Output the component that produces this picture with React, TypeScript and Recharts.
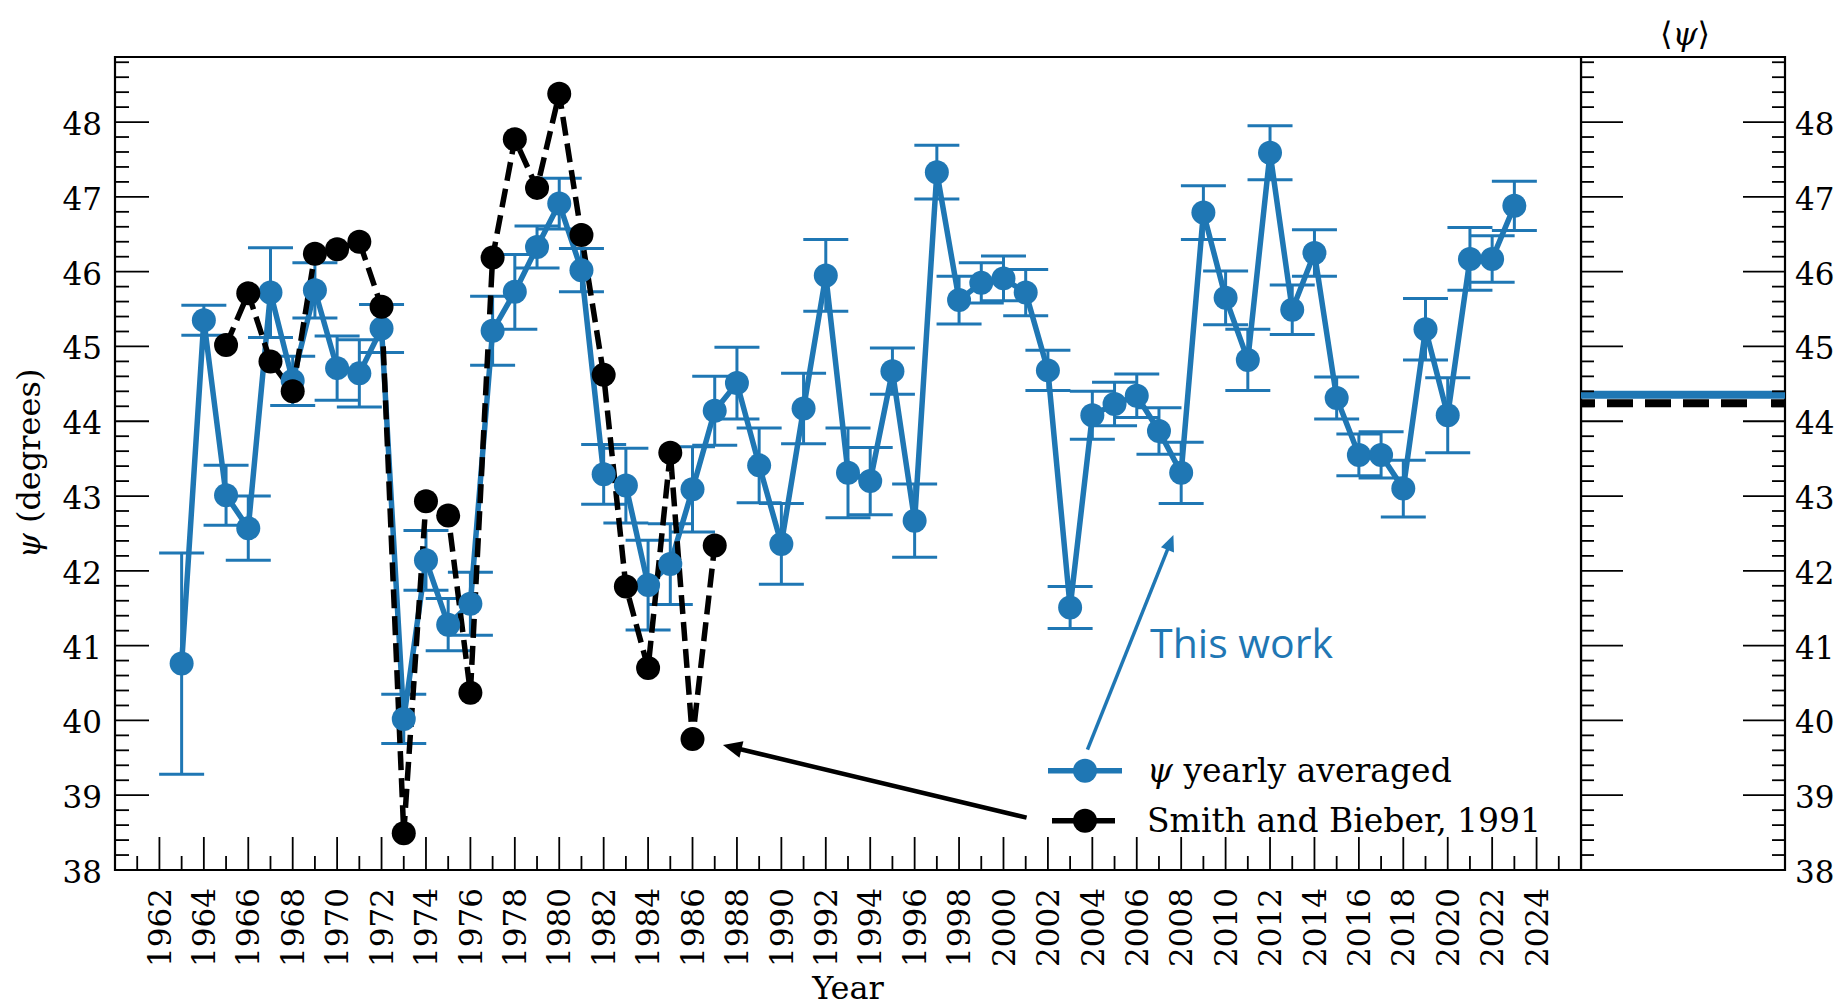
import React from 'react';
import {
  ComposedChart,
  Line,
  XAxis,
  YAxis,
  ErrorBar,
  ReferenceLine,
  ReferenceArea,
  ReferenceDot,
  Legend,
  Label,
} from 'recharts';

// yearly averaged psi (this work)
const years = [
  1963, 1964, 1965, 1966, 1967, 1968, 1969, 1970, 1971, 1972,
  1973, 1974, 1975, 1976, 1977, 1978, 1979, 1980, 1981, 1982,
  1983, 1984, 1985, 1986, 1987, 1988, 1989, 1990, 1991, 1992,
  1993, 1994, 1995, 1996, 1997, 1998, 1999, 2000, 2001, 2002,
  2003, 2004, 2005, 2006, 2007, 2008, 2009, 2010, 2011, 2012,
  2013, 2014, 2015, 2016, 2017, 2018, 2019, 2020, 2021, 2022, 2023,
];
const psiYearly = [
  40.76, 45.35, 43.01, 42.57, 45.72, 44.54, 45.75, 44.71, 44.64, 45.24,
  40.02, 42.14, 41.28, 41.56, 45.21, 45.73, 46.33, 46.91, 46.02, 43.29,
  43.14, 41.81, 42.09, 43.09, 44.14, 44.51, 43.41, 42.36, 44.17, 45.95,
  43.31, 43.2, 44.67, 42.67, 47.33, 45.62, 45.85, 45.91, 45.72, 44.68,
  41.51, 44.08, 44.23, 44.34, 43.87, 43.31, 46.79, 45.65, 44.82, 47.59,
  45.49, 46.25, 44.31, 43.55, 43.55, 43.1, 45.23, 44.08, 46.17, 46.17, 46.88,
];
const psiErr = [
  1.48, 0.2, 0.4, 0.43, 0.6, 0.33, 0.37, 0.43, 0.45, 0.32,
  0.33, 0.4, 0.35, 0.42, 0.46, 0.5, 0.28, 0.34, 0.29, 0.4,
  0.5, 0.6, 0.54, 0.57, 0.46, 0.48, 0.5, 0.54, 0.47, 0.48,
  0.6, 0.45, 0.31, 0.49, 0.36, 0.32, 0.27, 0.3, 0.31, 0.27,
  0.28, 0.32, 0.29, 0.29, 0.31, 0.41, 0.36, 0.36, 0.41, 0.36,
  0.33, 0.31, 0.28, 0.28, 0.31, 0.38, 0.41, 0.5, 0.42, 0.31, 0.33,
];

// Smith and Bieber, 1991
const smithYears = [
  1965, 1966, 1967, 1968, 1969, 1970, 1971, 1972, 1973, 1974, 1975, 1976,
  1977, 1978, 1979, 1980, 1981, 1982, 1983, 1984, 1985, 1986, 1987,
];
const smithBieber = [
  45.02, 45.71, 44.8, 44.4, 46.24, 46.3, 46.4, 45.53, 38.49, 42.93, 42.74, 40.37,
  46.19, 47.77, 47.12, 48.38, 46.49, 44.62, 41.79, 40.7, 43.58, 39.75, 42.34,
];

// averages shown in the side panel
const meanPsi = 44.355;
const meanSmith = 44.24;

// ticks
const xMajorTicks = [
  1962, 1964, 1966, 1968, 1970, 1972, 1974, 1976, 1978, 1980, 1982, 1984, 1986,
  1988, 1990, 1992, 1994, 1996, 1998, 2000, 2002, 2004, 2006, 2008, 2010, 2012,
  2014, 2016, 2018, 2020, 2022, 2024,
];
const yMajorTicks = [38, 39, 40, 41, 42, 43, 44, 45, 46, 47, 48];

// annotation anchors (data coordinates)
const blueArrow = [{ x: 2003.78, y: 39.61 }, { x: 2007.65, y: 42.48 }];
const blackArrow = [{ x: 2001.04, y: 38.7 }, { x: 1987.37, y: 39.67 }];
const thisWorkAt = { x: 2006.6, y: 40.83 };

const X_DOMAIN = [1960, 2026];
const Y_DOMAIN = [38, 48.87];

const BLUE = '#1f77b4';
const SERIF = '"DejaVu Serif", serif';

const xTicks = [...xMajorTicks, ...xMajorTicks.map((v) => v - 1), 2025].sort((a, b) => a - b);
const yTicks: number[] = [];
yMajorTicks.forEach((v) => {
  [0, 0.2, 0.4, 0.6, 0.8].forEach((d) => {
    const t = Math.round((v + d) * 10) / 10;
    if (t <= Y_DOMAIN[1]) yTicks.push(t);
  });
});

const data = years.map((year, i) => {
  const k = smithYears.indexOf(year);
  return {
    year,
    psi: psiYearly[i],
    err: psiErr[i],
    smith: k >= 0 ? smithBieber[k] : undefined,
  };
});

const isMajorY = (v: number) => Math.abs(v - Math.round(v)) < 1e-6;
const serifText = { fontFamily: SERIF };

function LeftYTick(props: any) {
  const { x, y, payload } = props;
  const major = isMajorY(payload.value);
  return (
    <g>
      <line x1={x} y1={y} x2={x + (major ? 34 : 14)} y2={y} stroke="#000" strokeWidth={1.8} />
      {major && (
        <text x={x - 13} y={y} dy={13} textAnchor="end" style={serifText} fontSize={31} fill="#000">
          {Math.round(payload.value)}
        </text>
      )}
    </g>
  );
}

function RightYTick(props: any) {
  const { x, y, payload } = props;
  const major = isMajorY(payload.value);
  const panelW = 204;
  const len = major ? 42 : 13;
  return (
    <g>
      <line x1={x} y1={y} x2={x - len} y2={y} stroke="#000" strokeWidth={1.8} />
      <line x1={x - panelW} y1={y} x2={x - panelW + len} y2={y} stroke="#000" strokeWidth={1.8} />
      {major && (
        <text x={x + 10} y={y} dy={13} textAnchor="start" style={serifText} fontSize={31} fill="#000">
          {Math.round(payload.value)}
        </text>
      )}
    </g>
  );
}

function BottomXTick(props: any) {
  const { x, y, payload } = props;
  const major = payload.value % 2 === 0;
  return (
    <g>
      <line x1={x} y1={y} x2={x} y2={y - (major ? 33 : 14)} stroke="#000" strokeWidth={1.8} />
      {major && (
        <text
          transform={`translate(${x},${y + 18}) rotate(-90)`}
          dy="0.36em"
          textAnchor="end"
          style={serifText}
          fontSize={31}
          fill="#000"
        >
          {payload.value}
        </text>
      )}
    </g>
  );
}

function YearLabel(props: any) {
  const { viewBox } = props;
  return (
    <text x={viewBox.x + viewBox.width / 2} y={viewBox.y + 129} textAnchor="middle" style={serifText} fontSize={32} fill="#000">
      Year
    </text>
  );
}

function PsiLabel(props: any) {
  const { viewBox } = props;
  const cy = viewBox.y + viewBox.height / 2;
  return (
    <text transform={`translate(40,${cy}) rotate(-90)`} textAnchor="middle" style={serifText} fontSize={32} fill="#000">
      <tspan fontStyle="italic">ψ</tspan> (degrees)
    </text>
  );
}

function arrow(color: string, width: number, headLen: number, headHalf: number) {
  return (p: any) => {
    const { x1, y1, x2, y2 } = p;
    const dx = x2 - x1;
    const dy = y2 - y1;
    const len = Math.hypot(dx, dy);
    const ux = dx / len;
    const uy = dy / len;
    const bx = x2 - ux * headLen;
    const by = y2 - uy * headLen;
    const px = -uy * headHalf;
    const py = ux * headHalf;
    return (
      <g>
        <line x1={x1} y1={y1} x2={bx + ux * 2} y2={by + uy * 2} stroke={color} strokeWidth={width} />
        <polygon points={`${x2},${y2} ${bx + px},${by + py} ${bx - px},${by - py}`} fill={color} />
      </g>
    );
  };
}

function ThisWork(p: any) {
  return (
    <text x={p.cx} y={p.cy} style={{ fontFamily: '"Open Sans", sans-serif' }} fontSize={41} fill={BLUE}>
      This work
    </text>
  );
}

const legendItems = [
  { label: 'yearly averaged', psi: true, color: BLUE },
  { label: 'Smith and Bieber, 1991', psi: false, color: '#000' },
];

function LegendContent() {
  return (
    <div style={{ fontFamily: SERIF, fontSize: 33, color: '#000' }}>
      {legendItems.map((it) => (
        <div key={it.label} style={{ display: 'flex', alignItems: 'center', height: 49.5, whiteSpace: 'nowrap' }}>
          <svg width={90} height={49.5} style={{ flex: 'none' }}>
            <line x1={it.psi ? 8 : 12} y1={24.75} x2={it.psi ? 82 : 75} y2={24.75} stroke={it.color} strokeWidth={5.5} />
            <circle cx={45} cy={24.75} r={12} fill={it.color} />
          </svg>
          <span style={{ marginLeft: 17 }}>
            {it.psi && <i>ψ </i>}
            {it.label}
          </span>
        </div>
      ))}
    </div>
  );
}

export default function App() {
  return (
    <div style={{ position: 'absolute', left: 0, top: 0, width: 1841, height: 1008, background: '#fff' }}>
      <div style={{ position: 'absolute', left: 0, top: 0 }}>
        <ComposedChart width={1600} height={1008} data={data} margin={{ top: 57, right: 19, bottom: 0, left: 0 }}>
          <XAxis
            dataKey="year"
            type="number"
            domain={X_DOMAIN}
            allowDataOverflow
            ticks={xTicks}
            interval={0}
            tickSize={0}
            tickMargin={0}
            axisLine={false}
            tick={<BottomXTick />}
            height={138}
          >
            <Label content={<YearLabel />} />
          </XAxis>
          <YAxis
            type="number"
            domain={Y_DOMAIN}
            allowDataOverflow
            ticks={yTicks}
            interval={0}
            tickSize={0}
            tickMargin={0}
            axisLine={false}
            tick={<LeftYTick />}
            width={115}
          >
            <Label content={<PsiLabel />} />
          </YAxis>
          <Legend
            layout="horizontal"
            verticalAlign="middle"
            align="center"
            wrapperStyle={{ left: 1040, top: 746, width: 545, height: 99 }}
            content={<LegendContent />}
          />
          <Line
            dataKey="psi"
            stroke={BLUE}
            strokeWidth={5.5}
            dot={{ r: 12, fill: BLUE, stroke: 'none' }}
            activeDot={false}
            isAnimationActive={false}
          >
            <ErrorBar dataKey="err" direction="y" width={22.5} stroke={BLUE} strokeWidth={3} isAnimationActive={false} />
          </Line>
          <Line
            dataKey="smith"
            stroke="#000"
            strokeWidth={5.5}
            strokeDasharray="19 8"
            dot={{ r: 12, fill: '#000', stroke: 'none' }}
            activeDot={false}
            isAnimationActive={false}
          />
          <ReferenceLine segment={blueArrow} shape={arrow(BLUE, 3.5, 16, 7)} />
          <ReferenceLine segment={blackArrow} shape={arrow('#000', 4.5, 19, 8.5)} />
          <ReferenceDot x={thisWorkAt.x} y={thisWorkAt.y} shape={ThisWork} />
          <ReferenceArea x1={X_DOMAIN[0]} x2={X_DOMAIN[1]} y1={Y_DOMAIN[0]} y2={Y_DOMAIN[1]} fill="none" stroke="#000" strokeWidth={2.2} />
        </ComposedChart>
      </div>
      <div style={{ position: 'absolute', left: 1581, top: 0 }}>
        <ComposedChart width={260} height={1008} data={[{ x: 0 }, { x: 1 }]} margin={{ top: 57, right: 0, bottom: 138, left: 0 }}>
          <XAxis dataKey="x" type="number" domain={[0, 1]} hide />
          <YAxis
            orientation="right"
            type="number"
            domain={Y_DOMAIN}
            allowDataOverflow
            ticks={yTicks}
            interval={0}
            tickSize={0}
            tickMargin={0}
            axisLine={false}
            tick={<RightYTick />}
            width={56}
          />
          <ReferenceLine y={meanPsi} stroke={BLUE} strokeWidth={8} />
          <ReferenceLine y={meanSmith} stroke="#000" strokeWidth={8} strokeDasharray="14 24 26 12 26 12 26 12 26 12 26 12" />
          <ReferenceArea x1={0} x2={1} y1={Y_DOMAIN[0]} y2={Y_DOMAIN[1]} fill="none" stroke="#000" strokeWidth={2.2} />
        </ComposedChart>
      </div>
      <div
        style={{
          position: 'absolute',
          left: 1585,
          top: 14,
          width: 200,
          textAlign: 'center',
          fontFamily: SERIF,
          fontSize: 32,
          lineHeight: '40px',
        }}
      >
        ⟨<i>ψ</i>⟩
      </div>
    </div>
  );
}
